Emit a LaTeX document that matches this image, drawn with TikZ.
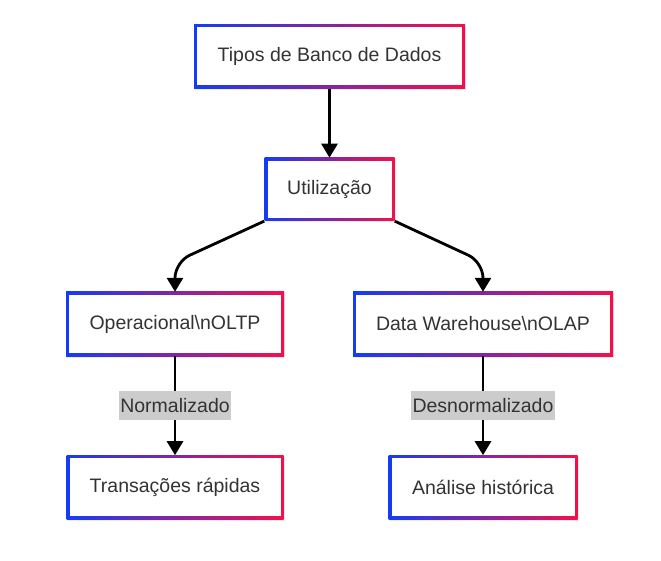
\documentclass[tikz,border=0pt]{standalone}
\usepackage{fontspec}
\setmainfont{Liberation Sans}
\usetikzlibrary{arrows.meta, positioning, shadows}

\definecolor{edgeblue}{RGB}{20,60,245}
\definecolor{edgered}{RGB}{245,15,75}
\definecolor{textgray}{RGB}{51,51,51}
\definecolor{tagfill}{RGB}{204,204,204}

\begin{document}
\begin{tikzpicture}[
    x=1pt, y=-1pt,
    dbbox/.style={rectangle, fill=white, minimum height=64pt, inner sep=0pt, text=textgray,
        font=\fontsize{19.5}{22}\selectfont,
        drop shadow={shadow xshift=1pt, shadow yshift=-1.5pt, opacity=0.15},
        path picture={
            \shade[left color=edgeblue, right color=edgered]
                (path picture bounding box.south west) rectangle (path picture bounding box.north east);
            \fill[white]
                ([shift={(3pt,3pt)}]path picture bounding box.south west) rectangle
                ([shift={(-3pt,-3pt)}]path picture bounding box.north east);
        }},
    tag/.style={fill=tagfill, text=textgray, font=\fontsize{19.5}{22}\selectfont,
        inner xsep=1.5pt, inner ysep=0pt, minimum height=29pt},
    arrow/.style={-{Triangle[width=16pt,length=14pt]}, line width=2.8pt}
]
    \useasboundingbox (0,0) rectangle (661,561);

    % Main nodes
    \node[dbbox, minimum width=271pt] (tipos) at (329.5,56.5) {Tipos de Banco de Dados};
    \node[dbbox, minimum width=130pt, minimum height=63pt, below=69pt of tipos] (util) {Utilização};

    % Two branches
    \node[dbbox, minimum width=218pt] (oltp) at (175,324) {Operacional\textbackslash nOLTP};
    \node[dbbox, minimum width=260pt] (olap) at (483,324) {Data Warehouse\textbackslash nOLAP};
    \node[dbbox, minimum width=217pt, below=99pt of oltp] (rapidas) {Transações rápidas};
    \node[dbbox, minimum width=189pt, below=99pt of olap] (historica) {Análise histórica};

    % Bends
    \coordinate (lbend) at (175,262);
    \coordinate (rbend) at (483,262);

    % Arrows
    \draw[arrow] (tipos) -- (util);
    \draw[arrow, rounded corners=16pt] (util.south west) -- (lbend) -- (oltp);
    \draw[arrow, rounded corners=16pt] (util.south east) -- (rbend) -- (olap);
    \draw[arrow] (oltp) -- node[tag] {Normalizado} (rapidas);
    \draw[arrow] (olap) -- node[tag] {Desnormalizado} (historica);
\end{tikzpicture}
\end{document}
